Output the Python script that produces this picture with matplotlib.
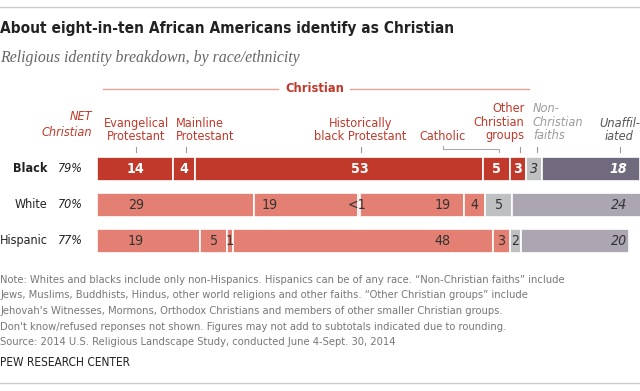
import matplotlib
matplotlib.use("Agg")
import matplotlib.pyplot as plt
import matplotlib.font_manager as fm
from matplotlib.transforms import blended_transform_factory

# ---------------- data ----------------
groups = ["Black", "White", "Hispanic"]
net_christian = ["79%", "70%", "77%"]
categories = ["Evangelical Protestant", "Mainline Protestant", "Historically black Protestant",
              "Catholic", "Other Christian groups", "Non-Christian faiths", "Unaffiliated"]
black_vals = [14, 4, 53, 5, 3, 3, 18]
white_vals = [29, 19, 0.5, 19, 4, 5, 24]
hispanic_vals = [19, 5, 1, 48, 3, 2, 20]
black_labels = ["14", "4", "53", "5", "3", "3", "18"]
white_labels = ["29", "19", "<1", "19", "4", "5", "24"]
hispanic_labels = ["19", "5", "1", "48", "3", "2", "20"]

values = [black_vals, white_vals, hispanic_vals]
labels = [black_labels, white_labels, hispanic_labels]

# ---------------- fonts ----------------
names = {f.name for f in fm.fontManager.ttflist}
if "Liberation Sans Narrow" in names:
    SANS = dict(family="Liberation Sans Narrow")
elif any(f.name == "DejaVu Sans" and f.stretch == "condensed" for f in fm.fontManager.ttflist):
    SANS = dict(family="DejaVu Sans", stretch="condensed")
else:
    SANS = dict(family="Roboto")
SERIF = dict(family="Liberation Serif")

W, H = 640, 391
fig = plt.figure(figsize=(W / 100, H / 100), dpi=100)
fig.patch.set_facecolor("white")


def fx(px):
    return px / W


def fy(py):
    return 1 - py / H


renderer = fig.canvas.get_renderer()


def fit(t, target_px):
    w = t.get_window_extent(renderer=renderer).width
    if w > 0:
        t.set_fontsize(t.get_fontsize() * target_px / w)
    return t.get_fontsize()


def measure_size(s, target_px, **kw):
    t = fig.text(0, 0, s, fontsize=10, **kw)
    size = fit(t, target_px)
    t.remove()
    return size


# ---------------- colours ----------------
RED = "#C0392B"
SALMON = "#E48073"
GRAY_NC = "#BFC0C2"
UNAFF_DARK = "#716A7E"
UNAFF_LIGHT = "#ACA6B2"
seg_colors = [
    [RED] * 5 + [GRAY_NC, UNAFF_DARK],
    [SALMON] * 5 + [GRAY_NC, UNAFF_LIGHT],
    [SALMON] * 5 + [GRAY_NC, UNAFF_LIGHT],
]

hdr_fs = measure_size("Evangelical", 65, **SANS)
row_fs = measure_size("Hispanic", 48, **SANS)
val_fs = measure_size("29", 16, **SANS)

# ---------------- bar axes ----------------
left_px, right_px = 97, 640
ax = fig.add_axes([fx(left_px), fy(260), (right_px - left_px) / W, 110 / H])
ax.set_xlim(0, 100)
ax.set_ylim((260 - 169) / 36, (150 - 169) / 36)
ax.axis("off")

bar_h = 0.68
for i, row in enumerate(values):
    start = 0
    for j, v in enumerate(row):
        ax.barh(i, v, left=start, height=bar_h, color=seg_colors[i][j],
                edgecolor="white", linewidth=1.2, clip_on=False)
        start += v

# label anchors (x in data units), None -> segment centre
anchors = [
    [None, None, 48.4, None, None, None, 96.1],
    [7.2, 31.7, 49.6, 63.7, None, None, 96.1],
    [7.2, None, None, 63.7, None, None, 96.1],
]
has = [
    ["center"] * 7,
    ["center", "center", "right", "center", "center", "center", "center"],
    ["center"] * 7,
]
for i, row in enumerate(values):
    start = 0
    for j, v in enumerate(row):
        x = anchors[i][j] if anchors[i][j] is not None else start + v / 2
        if i == 0:
            color = "#333333" if j == 5 else "white"
            weight = "normal" if j == 5 else "bold"
        else:
            color = "#333333"
            weight = "normal"
        style = "italic" if (j == 6 or (i == 0 and j == 5)) else "normal"
        ax.text(x, i, labels[i][j], ha=has[i][j], va="center", fontsize=val_fs,
                color=color, fontweight=weight, fontstyle=style, **SANS)
        start += v

# row labels
for i, g in enumerate(groups):
    yy = fy(169 + 36 * i)
    fig.text(fx(47.5), yy, g, ha="right", va="center", fontsize=row_fs,
             fontweight="bold" if i == 0 else "normal", color="#222222", **SANS)
    fig.text(fx(83), yy, net_christian[i], ha="right", va="center", fontsize=row_fs,
             fontstyle="italic", color="#222222", **SANS)

# ---------------- header ----------------
bt = blended_transform_factory(ax.transData, fig.transFigure)
col_x = [7.2, 16.3, 48.6, 63.7, 77.9, 81.0, 96.3]  # tick positions (data units)

fig.text(fx(92), fy(117), "NET", ha="right", va="center", fontsize=hdr_fs,
         fontstyle="italic", color=RED, **SANS)
fig.text(fx(92), fy(132), "Christian", ha="right", va="center", fontsize=hdr_fs,
         fontstyle="italic", color=RED, **SANS)

ls = 1.08
ax.text(col_x[0], fy(130), "Evangelical\nProtestant", transform=bt, ha="center", va="center",
        fontsize=hdr_fs, color=RED, linespacing=ls, multialignment="center", **SANS)
ax.text(14.6, fy(130), "Mainline\nProtestant", transform=bt, ha="left", va="center",
        fontsize=hdr_fs, color=RED, linespacing=ls, multialignment="left", **SANS)
ax.text(48.5, fy(130), "Historically\nblack Protestant", transform=bt, ha="center", va="center",
        fontsize=hdr_fs, color=RED, linespacing=ls, multialignment="center", **SANS)
ax.text(63.7, fy(137), "Catholic", transform=bt, ha="center", va="center",
        fontsize=hdr_fs, color=RED, **SANS)
ax.text(78.7, fy(122), "Other\nChristian\ngroups", transform=bt, ha="right", va="center",
        fontsize=hdr_fs, color=RED, linespacing=ls, multialignment="right", **SANS)
ax.text(80.3, fy(122), "Non-\nChristian\nfaiths", transform=bt, ha="left", va="center",
        fontsize=hdr_fs, color="#9A9A9A", fontstyle="italic", linespacing=ls,
        multialignment="left", **SANS)
ax.text(96.2, fy(130), "Unaffil-\niated", transform=bt, ha="center", va="center",
        fontsize=hdr_fs, color="#555555", fontstyle="italic", linespacing=ls,
        multialignment="center", **SANS)

# ticks under headers
for k, cx in enumerate(col_x):
    if k == 3:
        continue
    ax.plot([cx, cx], [fy(147), fy(152)], transform=bt, color="#999999", lw=0.8,
            clip_on=False)
# Catholic bracket
ax.plot([63.7, 63.7, 74.1, 74.1], [fy(145.5), fy(148.5), fy(148.5), fy(152)], transform=bt,
        color="#AAAAAA", lw=0.8, clip_on=False)

# Christian span header
chr_t = fig.text(fx(314.5), fy(88), "Christian", ha="center", va="center", fontsize=11,
                 fontweight="bold", color=RED, **SANS)
fit(chr_t, 58)
fig.add_artist(plt.Line2D([fx(103), fx(278)], [fy(89), fy(89)], color="#E8A093", lw=1))
fig.add_artist(plt.Line2D([fx(350), fx(529)], [fy(89), fy(89)], color="#E8A093", lw=1))

# ---------------- title etc. ----------------
fig.add_artist(plt.Line2D([0, 1], [fy(7), fy(7)], color="#CCCCCC", lw=1))
fig.add_artist(plt.Line2D([0, 1], [fy(383), fy(383)], color="#CCCCCC", lw=1))

title = fig.text(0, fy(28), "About eight-in-ten African Americans identify as Christian",
                 ha="left", va="center", fontsize=13, fontweight="bold", color="#222222", **SANS)
fit(title, 455)

sub = fig.text(0, fy(58), "Religious identity breakdown, by race/ethnicity", ha="left",
               va="center", fontsize=11, fontstyle="italic", color="#666666", **SERIF)
fit(sub, 300)

notes = [
    "Note: Whites and blacks include only non-Hispanics. Hispanics can be of any race. \u201cNon-Christian faiths\u201d include",
    "Jews, Muslims, Buddhists, Hindus, other world religions and other faiths. \u201cOther Christian groups\u201d include",
    "Jehovah's Witnesses, Mormons, Orthodox Christians and members of other smaller Christian groups.",
    "Don't know/refused reponses not shown. Figures may not add to subtotals indicated due to rounding.",
    "Source: 2014 U.S. Religious Landscape Study, conducted June 4-Sept. 30, 2014",
]
note_ys = [280, 295.5, 311, 326.5, 342]
first = fig.text(0, fy(note_ys[0]), notes[0], ha="left", va="center", fontsize=8.5,
                 color="#777777", **SANS)
fit(first, 566)
nfs = first.get_fontsize()
for s, yy in zip(notes[1:], note_ys[1:]):
    fig.text(0, fy(yy), s, ha="left", va="center", fontsize=nfs, color="#777777", **SANS)

pew = fig.text(0, fy(362), "PEW RESEARCH CENTER", ha="left", va="center", fontsize=8.5,
               color="#222222", **SANS)
fit(pew, 131)

fig.savefig("out.png", dpi=100, facecolor="white")
